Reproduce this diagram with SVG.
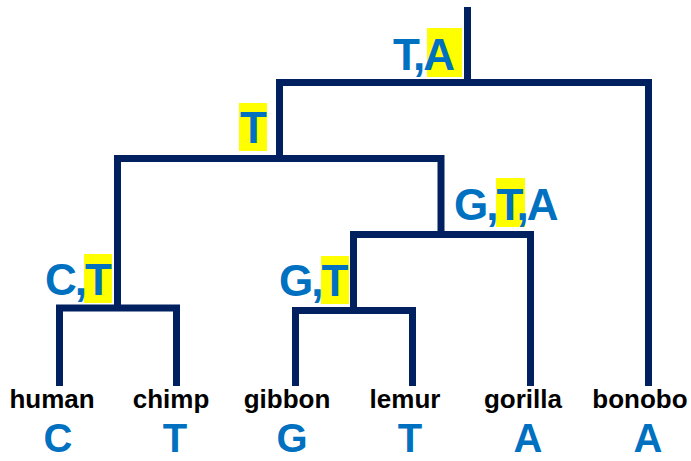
<svg xmlns="http://www.w3.org/2000/svg" width="691" height="461" viewBox="0 0 691 461">
<style>
.e{fill:none;stroke:#002060;stroke-width:7;stroke-linejoin:miter;stroke-linecap:butt}
.lab{font-family:"Liberation Sans",Arial,sans-serif;font-weight:bold;font-size:44px;fill:#0070C0;letter-spacing:-2px}
.hl{fill:#FFFF00}
.name{font-family:"Liberation Sans",Arial,sans-serif;font-weight:bold;font-size:26px;fill:#000;text-anchor:middle}
.base{font-family:"Liberation Sans",Arial,sans-serif;font-weight:bold;font-size:40px;fill:#0070C0;text-anchor:middle}
</style>
<rect width="691" height="461" fill="#fff"/>
<g id="connectors">
<path class="e" d="M467.5,7 V82.5"/>
<path class="e" d="M279.5,158 V82.5 H648.5 V386"/>
<path class="e" d="M117.5,308 V158.5 H441 V234.5"/>
<path class="e" d="M353.5,310 V234.5 H530.5 V386"/>
<path class="e" d="M59.5,386 V308 H176.5 V386"/>
<path class="e" d="M295.5,386 V310.5 H412.5 V386"/>
</g>
<g id="node-root">
<rect class="hl" x="427" y="28" width="35" height="49"/>
<text class="lab" x="393" y="70">T,A</text>
</g>
<g id="node-l2">
<rect class="hl" x="239" y="103" width="28" height="48"/>
<text class="lab" x="240" y="143">T</text>
</g>
<g id="node-hc">
<rect class="hl" x="84" y="254" width="28" height="49"/>
<text class="lab" x="45" y="295">C,T</text>
</g>
<g id="node-l3">
<rect class="hl" x="496" y="178" width="29" height="49"/>
<text class="lab" x="454" y="220">G,T,A</text>
</g>
<g id="node-gl">
<rect class="hl" x="321" y="256" width="28" height="48"/>
<text class="lab" x="279" y="296">G,T</text>
</g>
<g id="leaf-human"><text class="name" x="52" y="408">human</text><text class="base" x="58" y="452">C</text></g>
<g id="leaf-chimp"><text class="name" x="171" y="408">chimp</text><text class="base" x="175" y="452">T</text></g>
<g id="leaf-gibbon"><text class="name" x="287" y="408">gibbon</text><text class="base" x="292" y="452">G</text></g>
<g id="leaf-lemur"><text class="name" x="405" y="408">lemur</text><text class="base" x="410" y="452">T</text></g>
<g id="leaf-gorilla"><text class="name" x="523" y="408">gorilla</text><text class="base" x="528" y="452">A</text></g>
<g id="leaf-bonobo"><text class="name" x="640" y="408">bonobo</text><text class="base" x="648" y="452">A</text></g>
</svg>
